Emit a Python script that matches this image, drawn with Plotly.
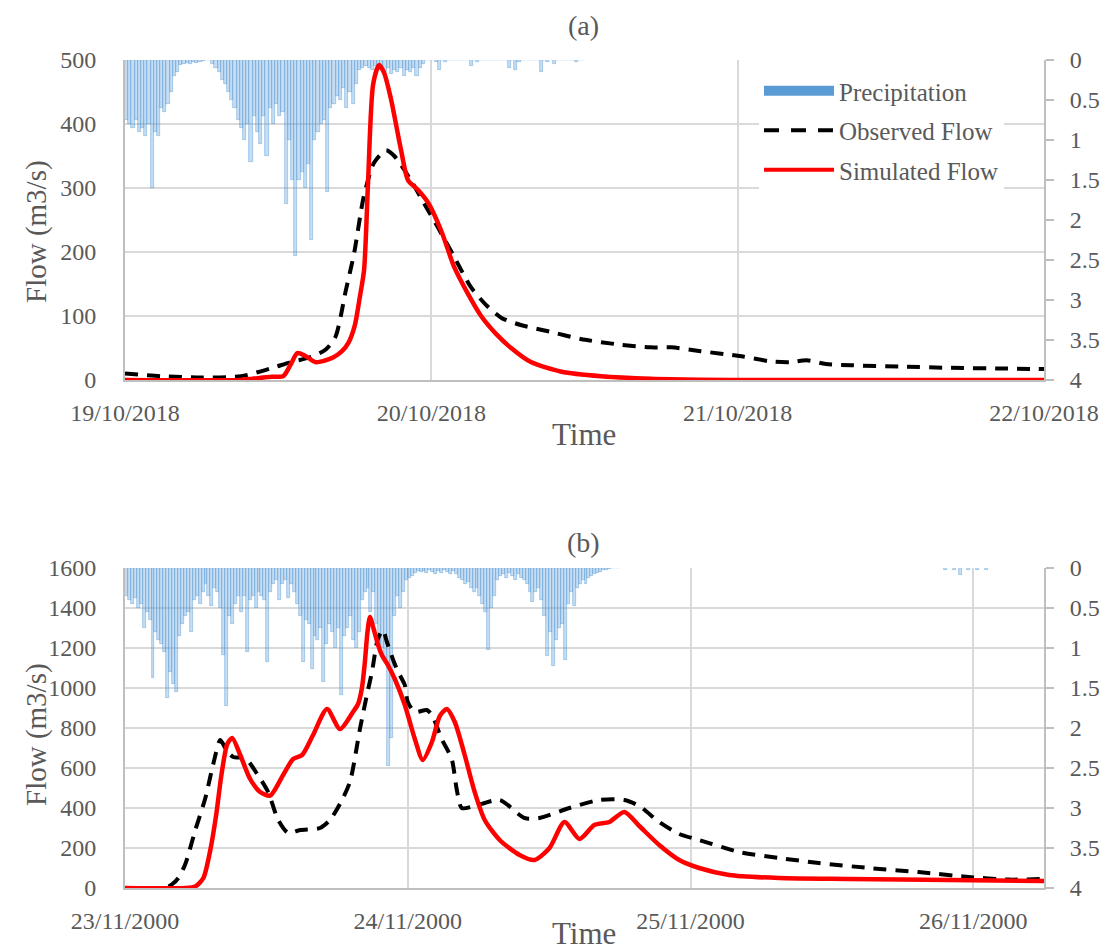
import numpy as np
import pandas as pd
import plotly.graph_objects as go

# ---------------- DATA ----------------
# Panel (a): 19/10/2018 - 22/10/2018
start_a = "2018-10-19 00:00"
# precipitation, 15-minute steps from start_a (mm, right axis)
precip_a = [
    0.75, 0.80, 0.85, 0.75, 0.90, 0.85, 0.95, 0.80,
    1.60, 0.90, 0.95, 0.60, 0.65, 0.55, 0.40, 0.20,
    0.15, 0.06, 0.05, 0.04, 0.05, 0.03, 0.04, 0.02,
    0.01, 0.00, 0.00, 0.05, 0.10, 0.15, 0.25, 0.30,
    0.40, 0.50, 0.60, 0.75, 0.85, 1.00, 0.80, 1.27,
    0.70, 0.90, 1.05, 0.70, 1.20, 0.60, 0.80, 0.55,
    0.70, 0.65, 1.80, 1.00, 1.50, 2.45, 1.50, 1.40,
    1.60, 1.30, 2.25, 1.00, 0.90, 0.80, 0.75, 1.65,
    0.60, 0.55, 0.45, 0.50, 0.35, 0.60, 0.40, 0.55,
    0.30, 0.12, 0.10, 0.08, 0.10, 0.12, 0.08, 0.10,
    0.12, 0.15, 0.10, 0.18, 0.12, 0.15, 0.10, 0.20,
    0.12, 0.15, 0.10, 0.20, 0.10, 0.05, 0.00, 0.00,
    0.00, 0.02, 0.12, 0.00, 0.02, 0.00, 0.00, 0.00,
    0.00, 0.00, 0.00, 0.00, 0.07, 0.00, 0.02, 0.00,
    0.00, 0.00, 0.00, 0.00, 0.00, 0.00, 0.00, 0.00,
    0.10, 0.00, 0.12, 0.02, 0.00, 0.00, 0.00, 0.00,
    0.00, 0.00, 0.15, 0.00, 0.02, 0.00, 0.05, 0.00,
    0.00, 0.00, 0.00, 0.00, 0.00, 0.03, 0.00, 0.00,
]
obs_a_hours = [0, 2.8, 6.0, 9.1, 11.4, 13.0, 14.6, 15.75, 16.5, 17.3, 17.95, 18.7,
               19.5, 20.45, 21.1, 22.4, 23.4, 24.5, 25.8, 27.1, 28.3, 29.5, 31.0,
               33.4, 35.7, 38.9, 41.2, 42.8, 45.1, 48.3, 50.6, 52.2, 53.4, 54.9,
               56.9, 60.8, 64.7, 68.7, 72.0]
obs_a_flow = [10, 6, 4, 6, 18, 28, 36, 48, 68, 140, 198, 286,
              339, 359, 350, 312, 277, 239, 192, 145, 117, 97, 86,
              75, 64, 55, 51, 51, 45, 37, 29, 28, 31, 25,
              23, 21, 19, 18, 17]
sim_a_hours = [0, 9.0, 10.0, 11.5, 12.4, 13.0, 13.5, 14.1, 14.9, 15.6, 16.3, 17.0,
               17.5, 18.0, 18.4, 18.73, 19.04, 19.44, 19.9, 20.3, 20.85, 21.63,
               22.18, 22.96, 23.75, 24.76, 25.78, 26.72, 27.9, 29.07, 30.25, 31.8,
               34.2, 37.3, 41.2, 45.1, 49.1, 72.0]
sim_a_flow = [0, 0, 2, 5, 6, 25, 42, 38, 28, 30, 35, 45,
              58, 85, 130, 172, 308, 462, 492, 480, 438, 359,
              312, 297, 277, 234, 177, 140, 100, 72, 50, 28,
              13, 6, 2, 0.5, 0, 0]
ticks_a = ["2018-10-19", "2018-10-20", "2018-10-21", "2018-10-22"]
ticktext_a = ["19/10/2018", "20/10/2018", "21/10/2018", "22/10/2018"]

# Panel (b): 23/11/2000 - 26/11/2000 06:00
start_b = "2000-11-23 00:00"
precip_b = [
    0.35, 0.40, 0.45, 0.38, 0.50, 0.45, 0.75, 0.55,
    0.65, 1.38, 0.80, 0.90, 0.95, 1.05, 1.63, 1.30,
    1.45, 1.55, 0.85, 0.70, 0.60, 0.55, 0.80, 0.40,
    0.35, 0.45, 0.30, 0.20, 0.35, 0.47, 0.25, 0.30,
    0.50, 1.09, 1.72, 0.60, 0.70, 0.45, 0.35, 0.55,
    0.35, 1.05, 0.40, 0.35, 0.50, 0.30, 0.35, 0.40,
    1.18, 0.30, 0.20, 0.15, 0.40, 0.20, 0.15, 0.38,
    0.20, 0.30, 0.45, 0.60, 1.18, 0.65, 0.70, 1.26,
    0.85, 0.90, 0.75, 1.43, 0.95, 0.70, 0.80, 1.00,
    0.75, 1.59, 0.85, 0.75, 0.60, 0.90, 1.00, 0.80,
    0.40, 0.30, 0.25, 0.55, 0.30, 0.70, 0.95, 1.00,
    1.18, 2.47, 2.13, 0.60, 0.35, 0.50, 0.30, 0.15,
    0.12, 0.10, 0.06, 0.04, 0.05, 0.04, 0.06, 0.03,
    0.05, 0.08, 0.04, 0.06, 0.03, 0.05, 0.07, 0.04,
    0.08, 0.12, 0.15, 0.20, 0.18, 0.25, 0.30, 0.25,
    0.35, 0.45, 0.55, 1.03, 0.50, 0.35, 0.15, 0.10,
    0.08, 0.12, 0.06, 0.10, 0.15, 0.08, 0.12, 0.15,
    0.20, 0.30, 0.43, 0.30, 0.25, 0.40, 0.60, 1.10,
    0.80, 1.22, 0.90, 0.75, 0.70, 1.15, 0.45, 0.30,
    0.47, 0.25, 0.20, 0.15, 0.20, 0.12, 0.10, 0.08,
    0.06, 0.05, 0.03, 0.02, 0.01, 0.00, 0.00, 0.00,
]
precip_b_tail_hours = [69.5, 70.25, 70.75, 71.5, 72.25, 73.0]
precip_b_tail = [0.02, 0.03, 0.09, 0.02, 0.03, 0.02]
obs_b_hours = [0, 3.43, 4.02, 4.53, 5.12, 5.97, 6.82, 7.49, 8.09, 8.6, 9.19, 10.2,
               11.22, 12.15, 13.0, 13.85, 14.86, 16.55, 17.4, 18.24, 19.09, 19.94,
               20.53, 20.96, 21.46, 21.89, 22.23, 22.73, 23.07, 23.5, 23.75, 24.0,
               24.6, 25.62, 26.05, 26.88, 27.73, 28.15, 28.58, 29.68, 31.8, 33.91,
               35.18, 37.72, 40.26, 42.38, 43.65, 45.34, 47.04, 48.73, 52.12, 55.5,
               58.89, 63.13, 67.36, 71.59, 74.98, 78.0]
obs_b_flow = [0, 0, 20, 50, 120, 290, 450, 620, 740, 690, 655, 650,
              570, 480, 340, 275, 290, 300, 340, 420, 530, 795,
              965, 1080, 1245, 1290, 1230, 1145, 1095, 1045, 1015, 930,
              880, 890, 865, 745, 645, 495, 400, 410, 440, 350,
              350, 400, 440, 440, 410, 330, 270, 240, 180, 150,
              125, 100, 80, 55, 42, 45]
sim_b_hours = [0, 5.12, 5.97, 6.65, 7.24, 7.75, 8.17, 8.68, 9.1, 9.78, 10.62, 11.47,
               12.32, 13.42, 14.27, 15.03, 15.96, 17.15, 18.25, 19.35, 19.78, 20.11,
               20.36, 20.58, 20.79, 21.13, 21.46, 21.8, 22.31, 22.9, 23.75, 24.6,
               25.27, 26.05, 26.72, 27.31, 27.99, 28.83, 29.68, 30.53, 31.8, 33.49,
               34.76, 36.03, 37.3, 38.57, 39.84, 41.11, 42.38, 43.65, 45.34, 47.04,
               48.73, 51.27, 55.5, 61.43, 69.9, 78.0]
sim_b_flow = [0, 0, 8, 50, 190, 370, 560, 720, 750, 665, 545, 480,
              462, 565, 645, 665, 765, 895, 795, 880, 920, 1000,
              1130, 1280, 1355, 1290, 1220, 1165, 1115, 1045, 915, 745,
              640, 730, 860, 895, 830, 665, 480, 340, 240, 165,
              140, 200, 330, 245, 315, 330, 380, 310, 215, 140,
              100, 65, 50, 45, 40, 35]
ticks_b = ["2000-11-23", "2000-11-24", "2000-11-25", "2000-11-26"]
ticktext_b = ["23/11/2000", "24/11/2000", "25/11/2000", "26/11/2000"]

# ---------------- STYLE ----------------
W, H = 1105, 952
FONT = "Liberation Serif"
GREY = "#595959"
GRID = "#d9d9d9"
AXL = "#bfbfbf"
BAR_FILL = "rgba(91,155,213,0.35)"
BAR_LINE = "rgba(91,155,213,0.65)"


def px(x):
    return x / W


def py(y):
    return 1 - y / H


def times(start, hours):
    return pd.Timestamp(start) + pd.to_timedelta(np.array(hours, dtype=float), unit="h")


def bar_times(start, n):
    return pd.Timestamp(start) + pd.to_timedelta(np.arange(n) * 15 + 7.5, unit="m")


fig = go.Figure()

bar_marker = dict(color=BAR_FILL, line=dict(color=BAR_LINE, width=0.7))
# precipitation (base axes, right side, reversed)
fig.add_trace(go.Bar(x=bar_times(start_a, len(precip_a)), y=precip_a, xaxis="x", yaxis="y",
                     width=15 * 60 * 1000, marker=bar_marker, showlegend=False, name="Precipitation"))
fig.add_trace(go.Bar(x=bar_times(start_b, len(precip_b)), y=precip_b, xaxis="x2", yaxis="y3",
                     width=15 * 60 * 1000, marker=bar_marker, showlegend=False, name="Precipitation"))
fig.add_trace(go.Bar(x=times(start_b, precip_b_tail_hours) + pd.Timedelta(minutes=7.5), y=precip_b_tail,
                     xaxis="x2", yaxis="y3", width=15 * 60 * 1000, marker=bar_marker,
                     showlegend=False, name="Precipitation"))

# flows (overlaying axes, left side)
dash = "13px,9px"
fig.add_trace(go.Scatter(x=times(start_a, obs_a_hours), y=obs_a_flow, xaxis="x", yaxis="y2",
                         mode="lines", line=dict(color="black", width=4, dash=dash, shape="spline", smoothing=0.7),
                         showlegend=False, name="Observed Flow"))
fig.add_trace(go.Scatter(x=times(start_a, sim_a_hours), y=sim_a_flow, xaxis="x", yaxis="y2",
                         mode="lines", line=dict(color="#ff0000", width=4.5, shape="spline", smoothing=0.7),
                         showlegend=False, name="Simulated Flow"))
fig.add_trace(go.Scatter(x=times(start_b, obs_b_hours), y=obs_b_flow, xaxis="x2", yaxis="y4",
                         mode="lines", line=dict(color="black", width=4, dash=dash, shape="spline", smoothing=0.7),
                         showlegend=False, name="Observed Flow"))
fig.add_trace(go.Scatter(x=times(start_b, sim_b_hours), y=sim_b_flow, xaxis="x2", yaxis="y4",
                         mode="lines", line=dict(color="#ff0000", width=4.5, shape="spline", smoothing=0.7),
                         showlegend=False, name="Simulated Flow"))

# legend entries
fig.add_trace(go.Scatter(x=[None], y=[None], xaxis="x", yaxis="y2", mode="lines",
                         line=dict(color="#5b9bd5", width=14), name="Precipitation",
                         legendgroup="p", legendrank=1))
fig.add_trace(go.Scatter(x=[None], y=[None], xaxis="x", yaxis="y2", mode="lines",
                         line=dict(color="black", width=4, dash="15px,12px"), name="Observed Flow",
                         legendgroup="o", legendrank=2))
fig.add_trace(go.Scatter(x=[None], y=[None], xaxis="x", yaxis="y2", mode="lines",
                         line=dict(color="#ff0000", width=4), name="Simulated Flow",
                         legendgroup="s", legendrank=3))

tickfont = dict(family=FONT, size=24, color=GREY)
xdom = [px(125), px(1044)]


def xaxis(anchor, rng, tv, tt):
    return dict(domain=xdom, anchor=anchor, type="date", range=rng, tickvals=tv, ticktext=tt,
                showgrid=True, gridcolor=GRID, gridwidth=2, showline=True, linecolor=AXL, linewidth=2,
                ticks="", tickfont=tickfont, ticklabelstandoff=10, automargin=False, zeroline=False)


def precip_axis(anchor, dom):
    return dict(domain=dom, anchor=anchor, side="right", range=[4, 0], dtick=0.5, tick0=0,
                showgrid=False, showline=True, linecolor=AXL, linewidth=2, ticks="outside", ticklen=8,
                tickcolor=AXL, tickwidth=2, tickfont=tickfont, ticklabelstandoff=11,
                automargin=False, zeroline=False)


def flow_axis(anchor, over, rng, dt):
    return dict(anchor=anchor, overlaying=over, side="left", range=rng, dtick=dt, tick0=0,
                showgrid=True, gridcolor=GRID, gridwidth=2, showline=True, linecolor=AXL, linewidth=2,
                ticks="", tickfont=tickfont, ticklabelstandoff=22, automargin=False, zeroline=False)


dom_a = [py(380), py(60)]
dom_b = [py(888), py(568)]

fig.update_layout(
    width=W, height=H, margin=dict(l=0, r=0, t=0, b=0), autosize=False,
    paper_bgcolor="white", plot_bgcolor="white",
    font=dict(family=FONT, color=GREY),
    barmode="overlay", bargap=0,
    xaxis=xaxis("y", ["2018-10-19", "2018-10-22"], ticks_a, ticktext_a),
    yaxis=precip_axis("x", dom_a),
    yaxis2=flow_axis("x", "y", [0, 500], 100),
    xaxis2=xaxis("y3", ["2000-11-23", "2000-11-26 06:00"], ticks_b, ticktext_b),
    yaxis3=precip_axis("x2", dom_b),
    yaxis4=flow_axis("x2", "y3", [0, 1600], 200),
    legend=dict(x=px(759), y=py(68), xanchor="left", yanchor="top", bgcolor="white",
                font=dict(family=FONT, size=25, color=GREY), itemwidth=70,
                tracegroupgap=4, traceorder="grouped"),
)

annots = [
    dict(text="(a)", x=px(583), y=py(25), size=28),
    dict(text="(b)", x=px(583), y=py(542), size=28),
    dict(text="Time", x=px(584), y=py(435), size=31),
    dict(text="Time", x=px(584), y=py(933), size=31),
]
for a in annots:
    fig.add_annotation(text=a["text"], x=a["x"], y=a["y"], xref="paper", yref="paper", showarrow=False,
                       xanchor="center", yanchor="middle",
                       font=dict(family=FONT, size=a["size"], color=GREY))
for yc in (232, 735):
    fig.add_annotation(text="Flow (m3/s)", xref="paper", yref="paper", x=px(36), y=py(yc), showarrow=False,
                       textangle=-90, xanchor="center", yanchor="middle",
                       font=dict(family=FONT, size=29, color=GREY))

fig.write_html("out.html", config={"displayModeBar": False},
               post_script="document.body.style.margin='0';")
